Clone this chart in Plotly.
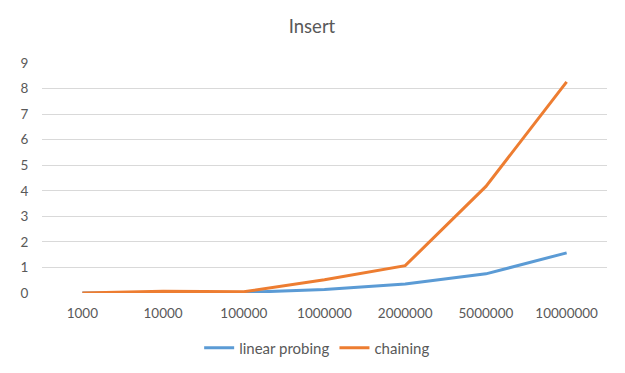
import plotly.graph_objects as go

categories = ["1000", "10000", "100000", "1000000", "2000000", "5000000", "10000000"]
linear_probing = [0.0, 0.01, 0.02, 0.14, 0.35, 0.75, 1.57]
chaining = [0.0, 0.07, 0.05, 0.52, 1.07, 4.17, 8.26]
y_ticks = [0, 1, 2, 3, 4, 5, 6, 7, 8, 9]

FONT = "Lato, Liberation Sans, sans-serif"
GREY = "#595959"

fig = go.Figure()
fig.add_trace(go.Scatter(x=categories, y=linear_probing, mode="lines", name="linear probing",
                         line=dict(color="#5B9BD5", width=3)))
fig.add_trace(go.Scatter(x=categories, y=chaining, mode="lines", name="chaining",
                         line=dict(color="#ED7D31", width=3)))

fig.update_layout(
    width=625, height=373,
    margin=dict(l=25, r=26, t=55, b=88),
    paper_bgcolor="white", plot_bgcolor="white",
    font=dict(family=FONT, color=GREY, size=13.5),
    title=dict(text="Insert", x=(312 - 8) / 625, xanchor="center", y=1 - 19 / 373, yanchor="middle",
               font=dict(size=18.5, color=GREY, family=FONT)),
    showlegend=True,
    legend=dict(orientation="h", x=0.487, xanchor="center", y=-0.239, yanchor="middle",
                font=dict(size=15, color=GREY), itemwidth=30, tracegroupgap=0),
    xaxis=dict(type="category", showgrid=False, zeroline=False, showline=False,
               ticks="outside", ticklen=8, tickcolor="rgba(0,0,0,0)",
               tickfont=dict(size=13.5, color=GREY), range=[-0.5, 6.5]),
    yaxis=dict(range=[0, 9], tickvals=y_ticks, showgrid=True, gridcolor="#D9D9D9",
               gridwidth=1, zeroline=False, showline=False,
               ticks="outside", ticklen=10, tickcolor="rgba(0,0,0,0)",
               tickfont=dict(size=13.5, color=GREY)),
)

fig.write_html("out.html")
